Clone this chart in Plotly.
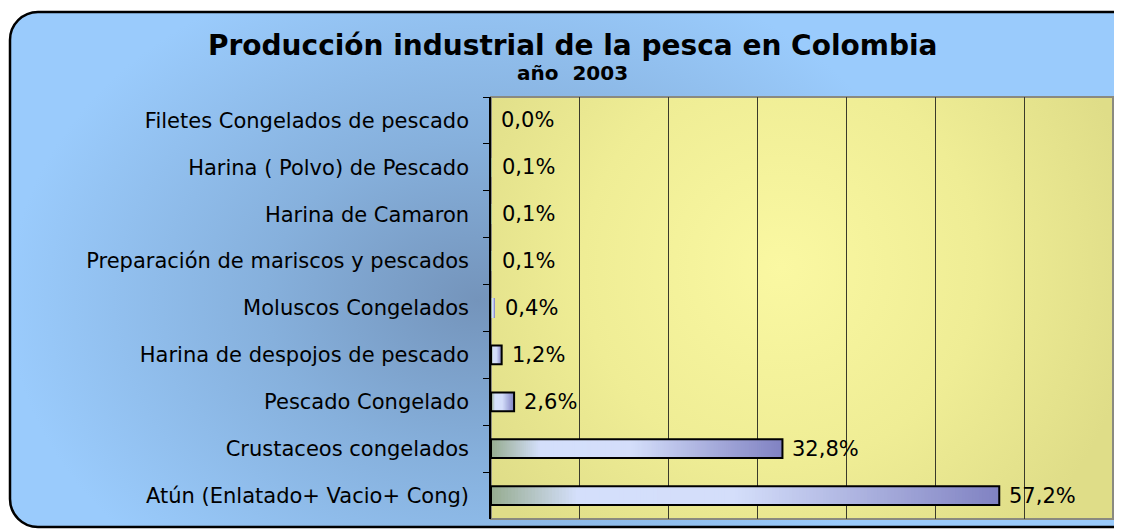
import base64
import plotly.graph_objects as go

# ---------------- data ----------------
categories = [
    "Filetes Congelados de pescado",
    "Harina ( Polvo) de Pescado",
    "Harina de Camaron",
    "Preparación de mariscos y pescados",
    "Moluscos Congelados",
    "Harina de despojos de pescado",
    "Pescado Congelado",
    "Crustaceos congelados",
    "Atún (Enlatado+ Vacio+ Cong)",
]
values = [0.0, 0.1, 0.1, 0.1, 0.4, 1.2, 2.6, 32.8, 57.2]
value_labels = ["0,0%", "0,1%", "0,1%", "0,1%", "0,4%", "1,2%", "2,6%", "32,8%", "57,2%"]
title_text = "Producción industrial de la pesca en Colombia"
subtitle_text = "año  2003"

# ---------------- styling ----------------
OFF = 8                      # page body margin
W, H = 1122, 529
# plot area in page pixels: x 491..1113, y 97..519
ML, MT = 491 - OFF, 97 - OFF
MR, MB = W - (1113 - OFF), H - (519 - OFF)
PW, PH = W - ML - MR, H - MT - MB

FONT = "DejaVu Sans"

bar_stops = [(0.0, (150, 172, 144)), (0.17, (212, 223, 251)),
             (0.48, (212, 222, 250)), (1.0, (128, 130, 194))]


def grad_color(t):
    for (t0, c0), (t1, c1) in zip(bar_stops[:-1], bar_stops[1:]):
        if t0 <= t <= t1:
            f = (t - t0) / (t1 - t0) if t1 > t0 else 0
            c = [round(a + (b - a) * f) for a, b in zip(c0, c1)]
            return f"rgb({c[0]},{c[1]},{c[2]})"
    c = bar_stops[-1][1]
    return f"rgb({c[0]},{c[1]},{c[2]})"


fig = go.Figure()

# gradient bars: overlapping bars of decreasing length (no seams)
N = 150
BAR_W = 0.4
for k in range(N):
    frac = (N - k) / N
    fig.add_trace(go.Bar(
        y=categories, x=[v * frac for v in values], orientation="h",
        marker=dict(color=grad_color((N - k - 0.5) / N), line=dict(width=0)),
        width=BAR_W, hoverinfo="skip", showlegend=False,
    ))

# outline (hairline-size bars are not outlined, as in the original)
fig.add_trace(go.Bar(
    y=categories, x=values, orientation="h",
    marker=dict(color="rgba(0,0,0,0)",
                line=dict(color="black", width=[2 if v >= 1 else 0 for v in values])),
    width=BAR_W, hoverinfo="skip", showlegend=False,
))

# value labels
for c, v, lab in zip(categories, values, value_labels):
    fig.add_annotation(x=v, y=c, xref="x", yref="y", text=lab, showarrow=False,
                       xanchor="left", yanchor="middle", xshift=8,
                       font=dict(family=FONT, size=21, color="black"))


# title + subtitle (page pixel centres -> paper coords)
def px_x(p):
    return (p - OFF - ML) / PW


def px_y(p):
    return (MT + PH - (p - OFF)) / PH


fig.add_annotation(x=px_x(572), y=px_y(46), xref="paper", yref="paper",
                   text=f"<b>{title_text}</b>", showarrow=False,
                   xanchor="center", yanchor="middle",
                   font=dict(family=FONT, size=28, color="black"))
fig.add_annotation(x=px_x(572), y=px_y(73), xref="paper", yref="paper",
                   text=f"<b>{subtitle_text}</b>", showarrow=False,
                   xanchor="center", yanchor="middle",
                   font=dict(family=FONT, size=20, color="black"))

# backgrounds as SVG images (figure pixel coordinates)
bg_svg = f'''<svg xmlns="http://www.w3.org/2000/svg" width="{W}" height="{H}" viewBox="0 0 {W} {H}" preserveAspectRatio="none">
<defs><radialGradient id="g" gradientUnits="userSpaceOnUse" cx="470" cy="292" r="470"
 gradientTransform="translate(470 292) scale(1 0.75) translate(-470 -292)">
<stop offset="0" stop-color="#7494bb"/><stop offset="0.45" stop-color="#86b0dc"/>
<stop offset="1" stop-color="#9acbfc"/></radialGradient></defs>
<rect x="{10 - OFF}" y="{12 - OFF}" width="1136" height="515" rx="28" ry="28" fill="url(#g)" stroke="#000" stroke-width="2.5"/>
</svg>'''
plot_svg = '''<svg xmlns="http://www.w3.org/2000/svg" width="622" height="422" viewBox="0 0 622 422" preserveAspectRatio="none">
<defs><radialGradient id="y" gradientUnits="userSpaceOnUse" cx="290" cy="170" r="360">
<stop offset="0" stop-color="#faf8a2"/><stop offset="0.55" stop-color="#efed95"/>
<stop offset="1" stop-color="#dfdd88"/></radialGradient></defs>
<rect x="0" y="0" width="622" height="422" fill="url(#y)"/>
</svg>'''


def uri(s):
    return "data:image/svg+xml;base64," + base64.b64encode(s.encode()).decode()


fig.add_layout_image(source=uri(bg_svg), xref="paper", yref="paper",
                     x=-ML / PW, y=(PH + MT) / PH, sizex=W / PW, sizey=H / PH,
                     xanchor="left", yanchor="top", sizing="stretch", layer="below")
fig.add_layout_image(source=uri(plot_svg), xref="paper", yref="paper",
                     x=0, y=1, sizex=1, sizey=1, xanchor="left", yanchor="top",
                     sizing="stretch", layer="below")

# plot area border
fig.add_shape(type="rect", xref="paper", yref="paper", x0=0, x1=1, y0=0, y1=1,
              line=dict(color="#8a8a80", width=2), layer="below")

fig.update_layout(
    width=W, height=H,
    margin=dict(l=ML, r=MR, t=MT, b=MB, pad=0),
    paper_bgcolor="white", plot_bgcolor="rgba(0,0,0,0)",
    barmode="overlay", bargap=0.6, showlegend=False, hovermode=False,
    xaxis=dict(range=[0, 70], dtick=10, tick0=0, showticklabels=False,
               showgrid=True, gridcolor="#3a3a2a", gridwidth=1,
               zeroline=False, showline=False, ticks=""),
    yaxis=dict(type="category", categoryorder="array", categoryarray=categories,
               autorange="reversed", tickson="boundaries", ticks="outside",
               ticklen=6, tickcolor="black", tickwidth=1,
               showline=True, linecolor="black", linewidth=1.5,
               showgrid=False, ticklabelstandoff=16,
               tickfont=dict(family=FONT, size=21, color="black")),
)

fig.write_html("out.html")
